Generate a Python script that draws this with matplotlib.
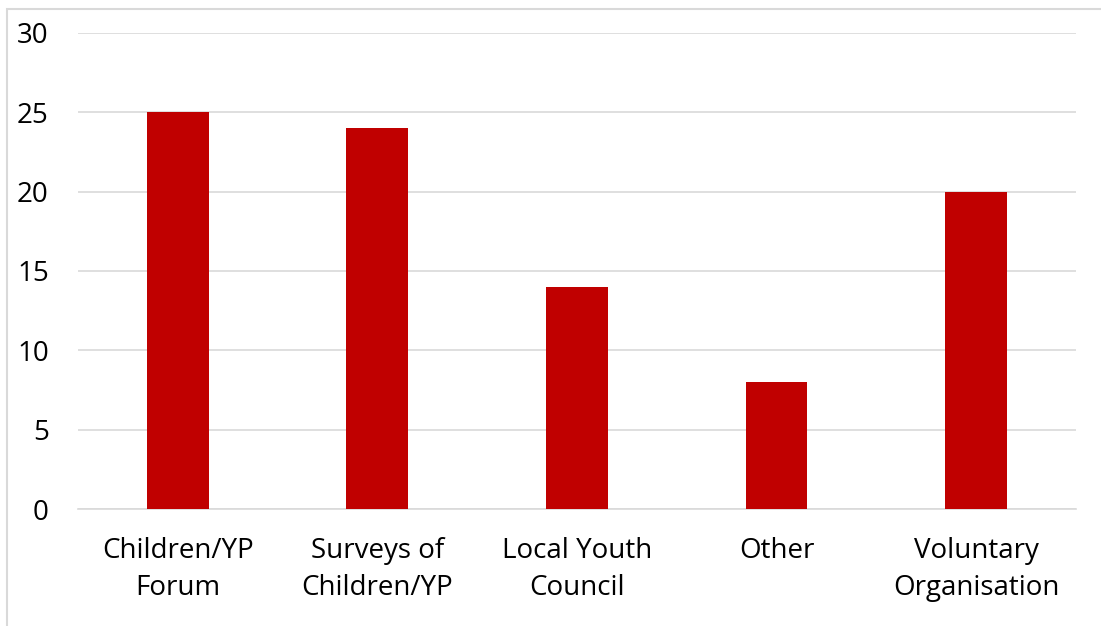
import matplotlib.pyplot as plt
from matplotlib.patches import Rectangle

categories = ["Children/YP\nForum", "Surveys of\nChildren/YP", "Local Youth\nCouncil",
              "Other", "Voluntary\nOrganisation"]
values = [25, 24, 14, 8, 20]
yticks = [0, 5, 10, 15, 20, 25, 30]

plt.rcParams['font.family'] = ['Open Sans', 'DejaVu Sans']

fig = plt.figure(figsize=(11.01, 6.26), dpi=100)
ax = fig.add_axes([0.0708, 0.1869, 0.9064, 0.7604])

x = range(len(categories))
ax.bar(x, values, width=0.31, color='#c00000', zorder=3)

ax.set_xlim(-0.5, len(categories) - 0.5)
ax.set_ylim(0, 30)
ax.set_yticks(yticks)
ax.set_xticks(list(x))
ax.set_xticklabels(categories, fontsize=20, linespacing=1.45)
ax.tick_params(axis='y', labelsize=20, length=0, pad=21)
ax.tick_params(axis='x', length=0, pad=20)

ax.grid(axis='y', color='#d9d9d9', linewidth=1.2, zorder=0)
for s in ['top', 'right', 'left']:
    ax.spines[s].set_visible(False)
ax.spines['bottom'].set_color('#d9d9d9')
ax.spines['bottom'].set_linewidth(1.2)

# chart frame, runs off the right and bottom edges
fig.patches.append(Rectangle((7 / 1101, -0.1), 1.2, 0.1 + (626 - 9) / 626,
                             transform=fig.transFigure, fill=False,
                             edgecolor='#d9d9d9', linewidth=1.5))

fig.savefig('out.png', dpi=100)
